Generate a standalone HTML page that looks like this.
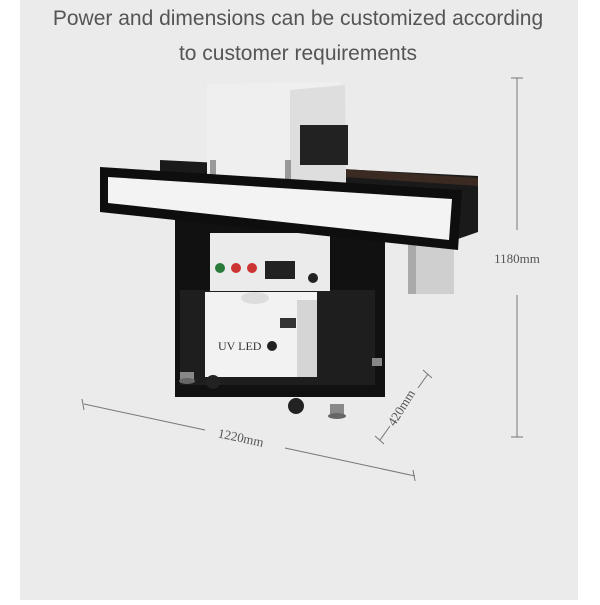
<!DOCTYPE html>
<html><head><meta charset="utf-8"><style>
body{margin:0;width:600px;height:600px;background:#fff;overflow:hidden;font-family:"Liberation Sans",sans-serif}
</style></head><body>
<svg width="600" height="600" viewBox="0 0 600 600" xmlns="http://www.w3.org/2000/svg">
<rect x="20" y="0" width="558" height="600" fill="#ebebeb"/>
<text x="298" y="25" text-anchor="middle" font-size="21" fill="#555" font-family="Liberation Sans,sans-serif">Power and dimensions can be customized according</text>
<text x="298" y="60" text-anchor="middle" font-size="21" fill="#555" font-family="Liberation Sans,sans-serif">to customer requirements</text>

<!-- dimension lines -->
<g stroke="#777" stroke-width="1" fill="none">
<line x1="517" y1="78" x2="517" y2="230"/><line x1="517" y1="295" x2="517" y2="437"/>
<line x1="511" y1="78" x2="523" y2="78"/><line x1="511" y1="437" x2="523" y2="437"/>
<line x1="84" y1="404" x2="205" y2="430"/><line x1="285" y1="448" x2="415" y2="476"/>
<line x1="82" y1="399" x2="84" y2="410"/><line x1="413" y1="470" x2="415" y2="481"/>
<line x1="380" y1="440" x2="390" y2="426"/><line x1="418" y1="388" x2="428" y2="374"/>
<line x1="375" y1="436" x2="384" y2="444"/><line x1="423" y1="370" x2="432" y2="378"/>
</g>
<text x="517" y="263" text-anchor="middle" font-size="13" fill="#555" font-family="Liberation Serif,serif">1180mm</text>
<text x="240" y="442" text-anchor="middle" font-size="13" fill="#555" font-family="Liberation Serif,serif" transform="rotate(12 240 442)">1220mm</text>
<text x="405" y="410" text-anchor="middle" font-size="13" fill="#555" font-family="Liberation Serif,serif" transform="rotate(-58 405 410)">420mm</text>

<!-- back belt -->
<polygon points="160,160 478,176 478,232 455,240 160,190" fill="#1a1a1a"/>
<polygon points="300,166 478,178 478,186 300,174" fill="#3a2a22"/>
<!-- right end box -->
<rect x="408" y="242" width="46" height="52" fill="#cfcfcf"/>
<rect x="408" y="242" width="8" height="52" fill="#aaa"/>
<!-- lamp housing -->
<polygon points="207,84 340,82 346,120 346,185 207,185" fill="#efefef"/>
<polygon points="290,90 345,85 346,185 290,185" fill="#dedede"/>
<rect x="300" y="125" width="48" height="40" fill="#222"/>
<rect x="210" y="160" width="6" height="25" fill="#999"/>
<rect x="285" y="160" width="6" height="25" fill="#999"/>
<!-- cabinet -->
<rect x="175" y="215" width="210" height="182" fill="#111"/>
<rect x="180" y="290" width="195" height="95" fill="#1e1e1e"/>
<rect x="210" y="233" width="120" height="58" fill="#ebebeb"/>
<circle cx="220" cy="268" r="5" fill="#2a7a3a"/>
<circle cx="236" cy="268" r="5" fill="#c33"/>
<circle cx="252" cy="268" r="5" fill="#c33"/>
<rect x="265" y="261" width="30" height="18" fill="#222"/>
<circle cx="313" cy="278" r="5" fill="#222"/>
<!-- UV box -->
<rect x="205" y="292" width="112" height="85" fill="#f2f2f2"/>
<rect x="297" y="300" width="20" height="77" fill="#d5d5d5"/>
<ellipse cx="255" cy="298" rx="14" ry="6" fill="#ddd"/>
<text x="218" y="350" font-size="12" fill="#333" font-family="Liberation Serif,serif">UV LED</text>
<circle cx="272" cy="346" r="5" fill="#222"/>
<rect x="280" y="318" width="16" height="10" fill="#333"/>
<!-- front frame -->
<polygon points="100,167 462,190 458,250 100,212" fill="#0e0e0e"/>
<polygon points="108,177 452,199 449,240 108,203" fill="#f3f3f3"/>
<!-- feet -->
<circle cx="213" cy="382" r="7" fill="#222"/>
<circle cx="296" cy="406" r="8" fill="#222"/>
<rect x="180" y="372" width="14" height="8" fill="#888"/><ellipse cx="187" cy="381" rx="8" ry="3" fill="#666"/>
<rect x="330" y="404" width="14" height="10" fill="#888"/><ellipse cx="337" cy="416" rx="9" ry="3" fill="#666"/>
<rect x="372" y="358" width="10" height="8" fill="#888"/>
</svg>
</body></html>
